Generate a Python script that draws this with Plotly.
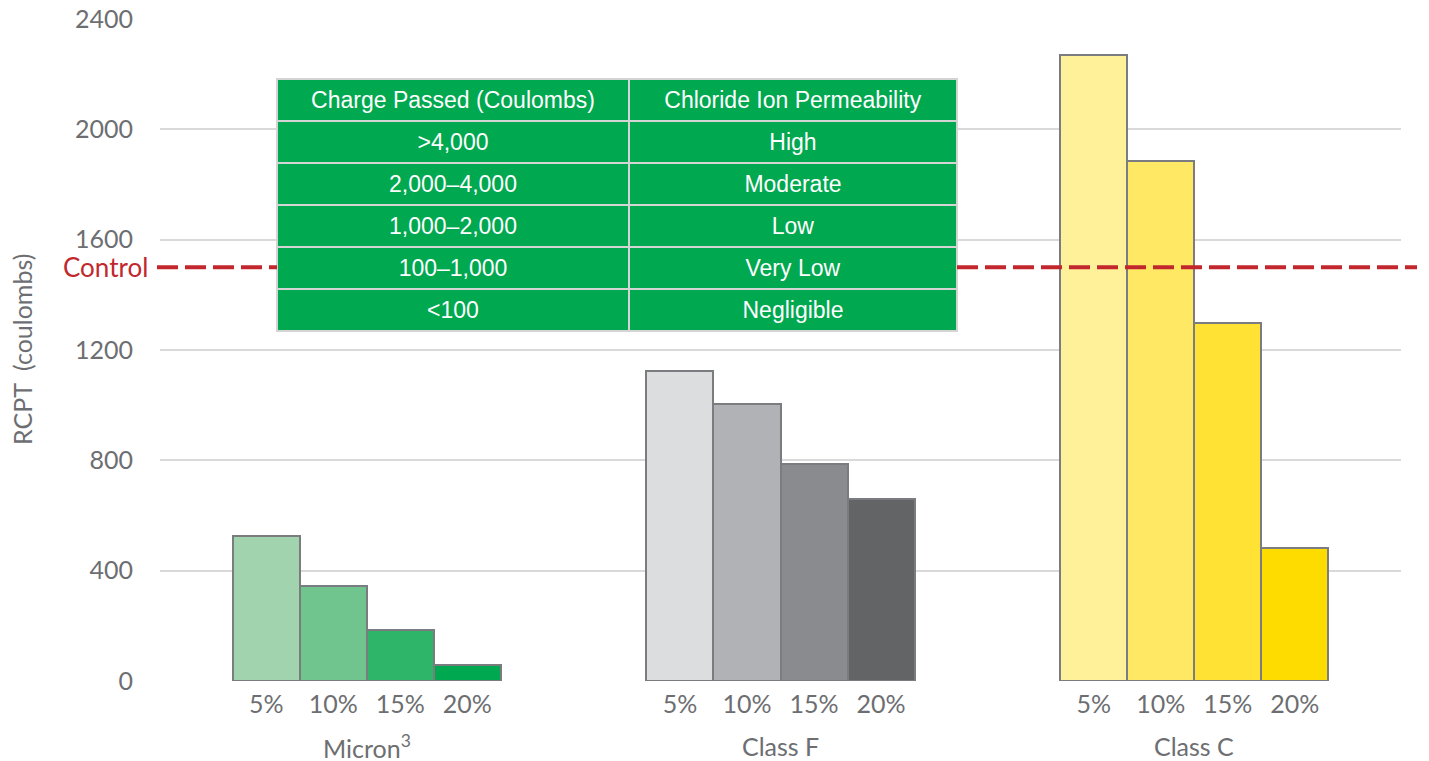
import plotly.graph_objects as go

# ---- data ----
groups = ["Micron<sup>3</sup>", "Class F", "Class C"]
percents = ["5%", "10%", "15%", "20%"]
micron = [525, 344, 184, 58]
class_f = [1124, 1006, 788, 661]
class_c = [2270, 1886, 1299, 481]
control_value = 1500
control_label = "Control"

table_header = ["Charge Passed (Coulombs)", "Chloride Ion Permeability"]
charge_passed = [">4,000", "2,000\u20134,000", "1,000\u20132,000", "100\u20131,000", "<100"]
permeability = ["High", "Moderate", "Low", "Very Low", "Negligible"]

# ---- styles ----
colors = [
    ["#A1D4AE", "#70C48E", "#2EB56A", "#00A84F"],
    ["#DCDDDF", "#B1B2B5", "#8A8B8E", "#636466"],
    ["#FFF09A", "#FFE964", "#FFE234", "#FFDC00"],
]
FONT = "Lato, Calibri, Carlito, sans-serif"
TFONT = "Liberation Sans, Arial, Helvetica, sans-serif"
TXT = "#6D6E71"
RED = "#C1272D"
GREEN = "#00A84F"
bar_w = 0.162
offsets = [-1.5 * bar_w, -0.5 * bar_w, 0.5 * bar_w, 1.5 * bar_w]

W, H = 1429, 761
PLOT_L, PLOT_T, PLOT_W, PLOT_H = 160, 19, 1241, 662
TBL_L, TBL_R, TBL_T, TBL_B = 277, 957, 79, 333
tx0 = (TBL_L - PLOT_L) / PLOT_W
tx1 = (TBL_R - PLOT_L) / PLOT_W
ty0 = (PLOT_T + PLOT_H - TBL_B) / PLOT_H
ty1 = (PLOT_T + PLOT_H - TBL_T) / PLOT_H


def esc(s):
    # uniform text handling in every table cell (keeps vertical alignment consistent)
    return "<span>" + s.replace("<", "&lt;").replace(">", "&gt;") + "</span>"


fig = go.Figure()
series = [micron, class_f, class_c]
tickvals, ticktext = [], []
for gi, vals in enumerate(series):
    xs = [gi + o for o in offsets]
    tickvals += xs
    ticktext += percents
    fig.add_trace(go.Bar(
        x=xs, y=vals, width=bar_w,
        marker=dict(color=colors[gi], line=dict(color="#7B7C7F", width=2)),
        showlegend=False, hoverinfo="y",
    ))

# control line (interrupted where the table sits on top of it)
for a, b in [(-3 / PLOT_W, tx0), (tx1, (1417 - PLOT_L) / PLOT_W)]:
    fig.add_shape(type="line", xref="paper", yref="y",
                  x0=a, x1=b, y0=control_value, y1=control_value,
                  line=dict(color=RED, width=4, dash="21px,7px"), layer="above")
fig.add_annotation(text=control_label, xref="paper", yref="y", x=0, y=control_value,
                   xanchor="right", yanchor="middle", xshift=-10, showarrow=False,
                   font=dict(family=FONT, size=26, color=RED))

# group labels
for gi, g in enumerate(groups):
    fig.add_annotation(text=g, xref="x", yref="paper", x=gi, y=0, yanchor="middle",
                       yshift=-65, showarrow=False,
                       font=dict(family=FONT, size=25, color=TXT))

# y axis title
fig.add_annotation(text="RCPT  (coulombs)", xref="paper", yref="paper",
                   x=(22 - PLOT_L) / PLOT_W, y=0.5, textangle=-90, showarrow=False,
                   xanchor="center", yanchor="middle",
                   font=dict(family=FONT, size=25, color=TXT))

# table
fig.add_trace(go.Table(
    domain=dict(x=[tx0, tx1], y=[ty0, ty1]),
    columnwidth=[352, 328],
    header=dict(values=[esc(h) for h in table_header], fill_color=GREEN, height=42,
                align="center", line=dict(color="#D4D4D4", width=2),
                font=dict(family=TFONT, size=23, color="white")),
    cells=dict(values=[[esc(v) for v in charge_passed], [esc(v) for v in permeability]],
               fill_color=GREEN, height=42,
               align="center", line=dict(color="#D4D4D4", width=2),
               font=dict(family=TFONT, size=23, color="white")),
))

fig.update_layout(
    width=W, height=H,
    margin=dict(l=PLOT_L, r=W - PLOT_L - PLOT_W, t=PLOT_T,
                b=H - PLOT_T - PLOT_H, autoexpand=False),
    paper_bgcolor="white", plot_bgcolor="white",
    bargap=0,
    font=dict(family=FONT, color=TXT),
    xaxis=dict(range=[-0.5, 2.5], tickvals=tickvals, ticktext=ticktext,
               showgrid=False, zeroline=False, showline=False,
               tickfont=dict(family=FONT, size=25, color=TXT),
               ticklabelstandoff=6, ticklabeloverflow="allow", fixedrange=True),
    yaxis=dict(range=[0, 2400], tickvals=[0, 400, 800, 1200, 1600, 2000, 2400],
               showgrid=True, gridcolor="#D9D9D9", gridwidth=2,
               zeroline=False, showline=False,
               tickfont=dict(family=FONT, size=25, color=TXT),
               ticklabelstandoff=26, ticklabeloverflow="allow", fixedrange=True),
)

fig.write_html(
    "out.html",
    config={"displayModeBar": False},
    post_script="document.body.style.margin='0';document.documentElement.style.overflow='hidden';",
)
